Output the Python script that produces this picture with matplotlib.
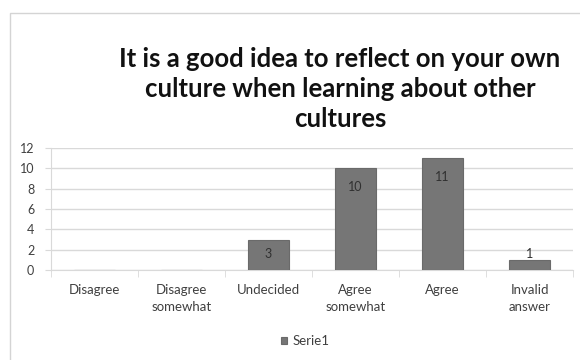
import matplotlib
matplotlib.use("Agg")
import matplotlib.pyplot as plt
from matplotlib.patches import Rectangle

categories = ["Disagree", "Disagree\nsomewhat", "Undecided", "Agree\nsomewhat", "Agree", "Invalid\nanswer"]
values = [0, 0, 3, 10, 11, 1]
series_name = "Serie1"
title = "It is a good idea to reflect on your own\nculture when learning about other\ncultures"
y_ticks = [0, 2, 4, 6, 8, 10, 12]

W, H = 580, 360
fig = plt.figure(figsize=(W / 100, H / 100), dpi=100)
fig.patch.set_facecolor("white")

# chart frame
fig.add_artist(Rectangle((10 / W, -0.1), 1.2, (H - 13) / H + 0.1, transform=fig.transFigure,
                         fill=False, edgecolor="#d4d4d4", linewidth=1.0))

L, R, B, T = 51, 573, 270, 148
ax = fig.add_axes([L / W, 1 - B / H, (R - L) / W, (B - T) / H])
ax.set_facecolor("none")

font = "Lato"
text_color = "#404040"
bar_color = "#767676"
x = list(range(len(categories)))
bars = ax.bar(x, values, width=0.48, color=bar_color, edgecolor="#6a6a6a", linewidth=0.8,
              label=series_name, zorder=3)

ax.set_xlim(-0.5, len(categories) - 0.5)
ax.set_ylim(0, 12)
ax.set_yticks(y_ticks)
ax.set_yticklabels([str(v) for v in y_ticks], fontsize=9, family=font, color=text_color)
ax.yaxis.grid(True, color="#d9d9d9", linewidth=1.0, zorder=0)
ax.set_axisbelow(True)
for s in ["top", "right"]:
    ax.spines[s].set_visible(False)
ax.spines["left"].set_color("#d9d9d9")
ax.spines["bottom"].set_color("#d9d9d9")
ax.tick_params(axis="y", length=4, color="#d9d9d9", pad=8)

ax.set_xticks([i + 0.5 for i in range(-1, len(categories))], minor=True)
ax.set_xticks(x)
ax.set_xticklabels(categories, fontsize=9.5, family=font, color=text_color, linespacing=1.5)
ax.tick_params(axis="x", which="major", length=0, pad=10)
ax.tick_params(axis="x", which="minor", length=5, color="#d9d9d9")

# value labels near the top inside each bar
px_per_unit = (B - T) / 12
for xi, v in zip(x, values):
    if v <= 0:
        continue
    top_px = B - v * px_per_unit
    cy = min(top_px + 19, B - 16)
    yv = (B - cy) / px_per_unit
    ax.text(xi, yv, str(v), ha="center", va="center", fontsize=9, family=font,
            color="#303030", zorder=4)

fig.text(340 / W, 1 - 89 / H, title, ha="center", va="center", fontsize=18.5, fontweight="bold",
         family=font, color="#111111", linespacing=1.3)

fig.legend(handles=[bars], labels=[series_name], loc="center", bbox_to_anchor=(305 / W, 1 - 341 / H),
           frameon=False, prop={"family": font, "size": 9.5}, handlelength=0.5, handleheight=0.5,
           handletextpad=0.4, labelcolor=text_color)

fig.savefig("out.png", dpi=100)
